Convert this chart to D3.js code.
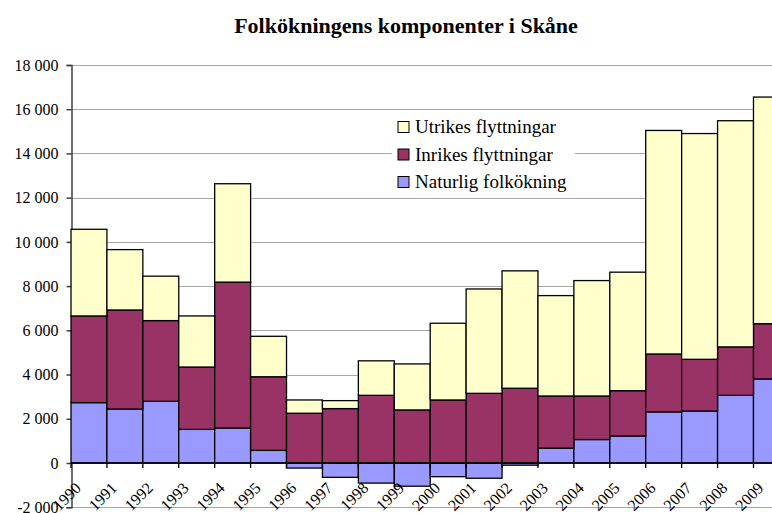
<!DOCTYPE html>
<html>
<head>
<meta charset="utf-8">
<script src="https://cdn.jsdelivr.net/npm/d3@7/dist/d3.min.js"></script>
<style>
  body { margin: 0; background: #fff; }
  text { font-family: "Liberation Serif", "Times New Roman", serif; fill: #000; }
</style>
</head>
<body>
<div id="chart"></div>
<script>
// Data
var years = ["1990","1991","1992","1993","1994","1995","1996","1997","1998","1999",
             "2000","2001","2002","2003","2004","2005","2006","2007","2008","2009"];
var naturlig = [2730, 2440, 2790, 1520, 1580, 570, -230, -650, -910, -1050,
                -620, -690, -100, 670, 1060, 1220, 2310, 2350, 3060, 3800];
var inrikes  = [3920, 4480, 3650, 2820, 6600, 3330, 2250, 2460, 3060, 2400,
                2850, 3150, 3380, 2360, 1970, 2050, 2620, 2340, 2190, 2500];
var utrikes  = [3920, 2730, 2010, 2310, 4450, 1830, 600, 360, 1560, 2080,
                3470, 4720, 5310, 4540, 5220, 5360, 10110, 10210, 10230, 10250];
var seriesKeys = ["Naturlig folkökning", "Inrikes flyttningar", "Utrikes flyttningar"];
var seriesColors = ["#9999ff", "#993366", "#ffffcc"];
var yTicks = [-2000, 0, 2000, 4000, 6000, 8000, 10000, 12000, 14000, 16000, 18000];

var width = 772, height = 513;
var margin = {top: 65, left: 71};
var bandW = 35.92;

var rows = years.map(function(y, i) {
  var r = {year: y};
  r[seriesKeys[0]] = naturlig[i];
  r[seriesKeys[1]] = inrikes[i];
  r[seriesKeys[2]] = utrikes[i];
  return r;
});

var stacked = d3.stack()
  .keys(seriesKeys)
  .offset(d3.stackOffsetDiverging)(rows);

var x = d3.scaleBand()
  .domain(years)
  .range([margin.left, margin.left + bandW * years.length])
  .padding(0);

var y = d3.scaleLinear()
  .domain([-2000, 18000])
  .range([507.2, margin.top]);

var color = d3.scaleOrdinal().domain(seriesKeys).range(seriesColors);

var fmt = d3.formatLocale({decimal: ",", thousands: " ", grouping: [3], currency: ["", ""], minus: "-"}).format(",");

var svg = d3.select("#chart").append("svg")
  .attr("width", width)
  .attr("height", height);

// Title
svg.append("text")
  .attr("x", 406)
  .attr("y", 33)
  .attr("text-anchor", "middle")
  .style("font-size", "22px")
  .style("font-weight", "bold")
  .text("Folkökningens komponenter i Skåne");

// Gridlines
svg.append("g")
  .selectAll("line")
  .data(yTicks)
  .enter().append("line")
  .attr("x1", margin.left)
  .attr("x2", x.range()[1])
  .attr("y1", function(d) { return Math.round(y(d)) + 0.5; })
  .attr("y2", function(d) { return Math.round(y(d)) + 0.5; })
  .attr("stroke", "#a6a6a6")
  .attr("stroke-width", 1.2);

// Y axis
var yAxis = svg.append("g")
  .attr("transform", "translate(" + (margin.left + 0.5) + ",0)")
  .call(d3.axisLeft(y).tickValues(yTicks).tickSize(5).tickPadding(8).tickFormat(fmt));
yAxis.select(".domain").attr("stroke", "#404040").attr("stroke-width", 1.5);
yAxis.selectAll(".tick line").attr("stroke", "#404040").attr("stroke-width", 1.5);
yAxis.selectAll("text")
  .style("font-family", "'Liberation Serif', serif")
  .style("font-size", "16px");

// Bars
svg.append("g")
  .selectAll("g")
  .data(stacked)
  .enter().append("g")
  .attr("fill", function(d) { return color(d.key); })
  .selectAll("rect")
  .data(function(d) { return d; })
  .enter().append("rect")
  .attr("x", function(d) { return x(d.data.year); })
  .attr("y", function(d) { return y(Math.max(d[0], d[1])); })
  .attr("width", x.bandwidth())
  .attr("height", function(d) { return Math.abs(y(d[0]) - y(d[1])); })
  .attr("stroke", "#000")
  .attr("stroke-width", 1.3);

// Category axis at zero
var xAxis = svg.append("g")
  .attr("transform", "translate(0," + y(0) + ")");
xAxis.append("line")
  .attr("x1", margin.left)
  .attr("x2", x.range()[1])
  .attr("stroke", "#000")
  .attr("stroke-width", 1.5);
xAxis.selectAll(".tk")
  .data(years)
  .enter().append("line")
  .attr("class", "tk")
  .attr("x1", function(d) { return x(d); })
  .attr("x2", function(d) { return x(d); })
  .attr("y1", 0)
  .attr("y2", 5)
  .attr("stroke", "#000")
  .attr("stroke-width", 1.3);

// Category labels (low position, rotated)
svg.append("g")
  .selectAll("text")
  .data(years)
  .enter().append("text")
  .attr("transform", function(d) {
    return "translate(" + (x(d) + x.bandwidth() / 2 - 7) + ",489) rotate(-45)";
  })
  .attr("text-anchor", "end")
  .style("font-size", "16px")
  .text(function(d) { return d; });

// Legend
var legend = svg.append("g");
legend.append("rect")
  .attr("x", 392)
  .attr("y", 112)
  .attr("width", 183)
  .attr("height", 83)
  .attr("fill", "#fff");
var legendItems = seriesKeys.slice().reverse();
var li = legend.selectAll(".li")
  .data(legendItems)
  .enter().append("g")
  .attr("class", "li")
  .attr("transform", function(d, i) { return "translate(398," + (127 + i * 27.5) + ")"; });
li.append("rect")
  .attr("x", 0)
  .attr("y", -5.5)
  .attr("width", 11)
  .attr("height", 11)
  .attr("fill", function(d) { return color(d); })
  .attr("stroke", "#000")
  .attr("stroke-width", 1);
li.append("text")
  .attr("x", 17)
  .attr("y", 6)
  .style("font-size", "19px")
  .text(function(d) { return d; });
</script>
</body>
</html>
